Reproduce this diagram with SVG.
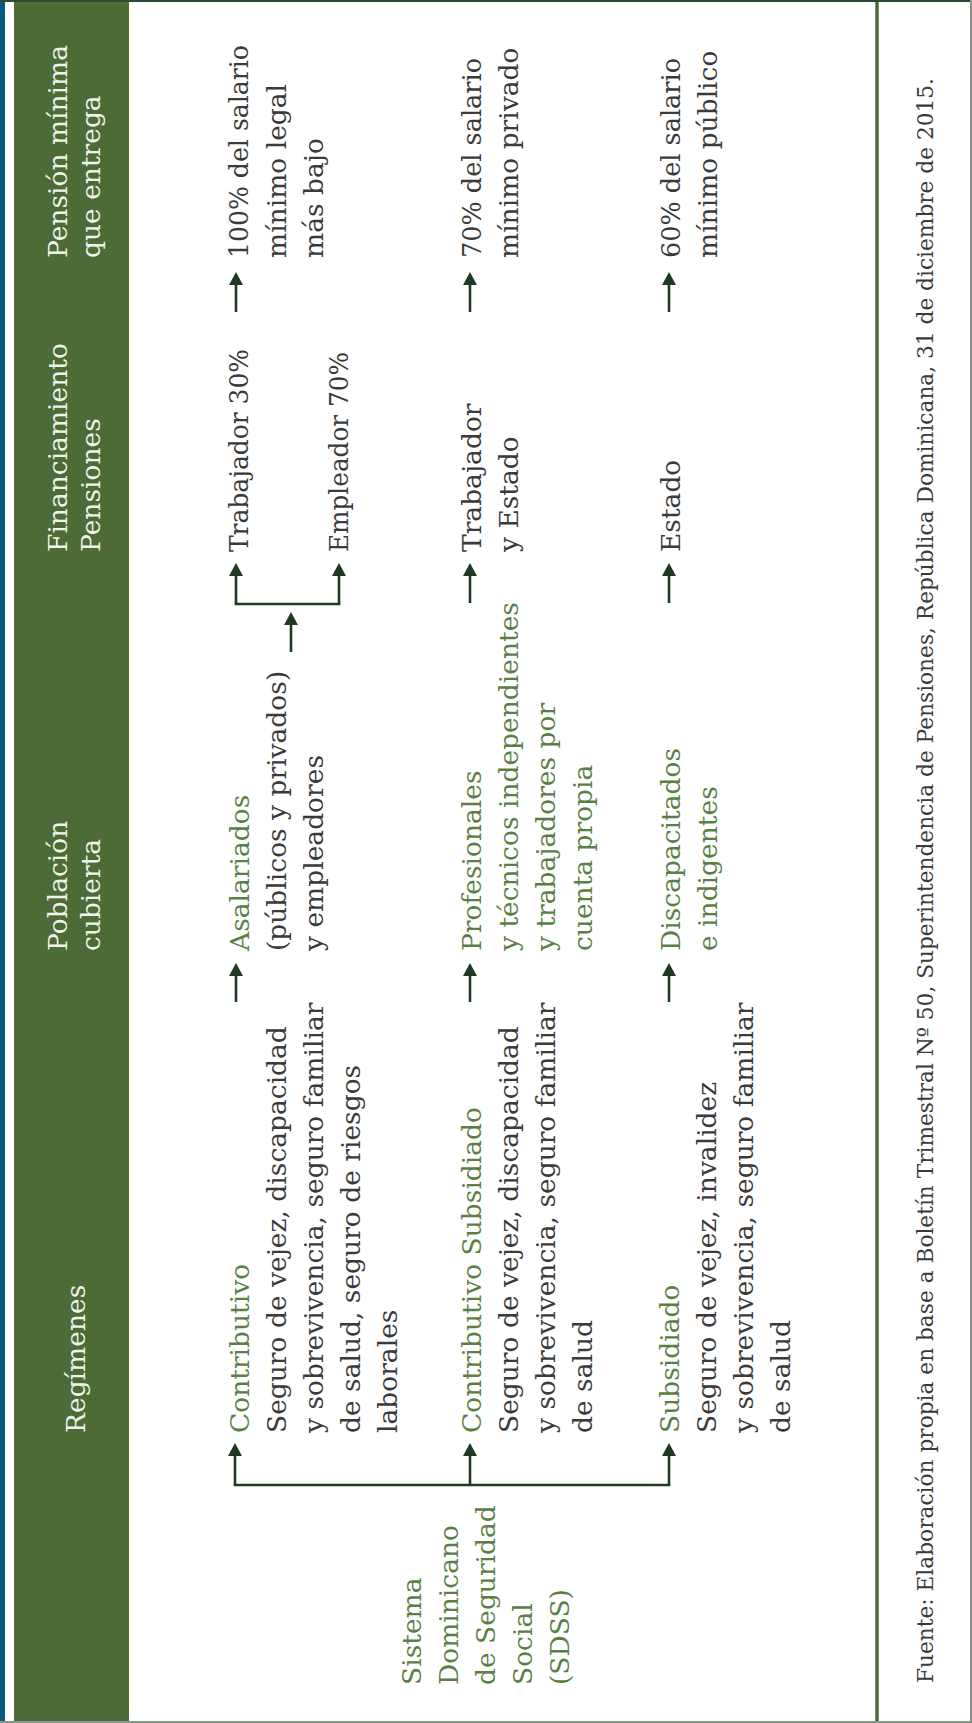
<svg xmlns="http://www.w3.org/2000/svg" width="972" height="1723" viewBox="0 0 972 1723">
<style>
.t{font-family:"DejaVu Serif","Liberation Serif",serif;font-size:26.5px;fill:#3a3a3a}
.g{fill:#5a7f44}
.h{fill:#f2f2ea}
.f{font-size:22px}
.c{stroke:#1f3a22;stroke-width:2.6;fill:none}
</style>
<defs>
<marker id="ah" markerUnits="userSpaceOnUse" viewBox="0 0 13 14" markerWidth="13" markerHeight="14" refX="3" refY="7" orient="auto">
<path d="M0,0 L13,7 L0,14 z" fill="#1f3a22"/>
</marker>
</defs>
<g id="frame">
<rect x="0" y="0" width="972" height="1723" fill="#ffffff"/>
<rect x="0" y="0" width="5" height="1723" fill="#0b5a7d"/>
<rect x="14" y="0" width="115" height="1723" fill="#4d6b36"/>
<line x1="877" y1="0" x2="877" y2="1723" stroke="#4d6b36" stroke-width="3.5"/>
<line x1="0" y1="1" x2="972" y2="1" stroke="#2f4a30" stroke-width="2"/>
<line x1="0" y1="1722" x2="972" y2="1722" stroke="#889888" stroke-width="2"/>
<line x1="971" y1="0" x2="971" y2="1723" stroke="#8a8f8a" stroke-width="2"/>
</g>
<g transform="translate(0,1723) rotate(-90)">
<g id="headers">
<text class="t h" x="290" y="85">Regímenes</text>
<text class="t h" x="772" y="67">Población<tspan x="772" dy="33">cubierta</tspan></text>
<text class="t h" x="1171" y="67">Financiamiento<tspan x="1171" dy="33">Pensiones</tspan></text>
<text class="t h" x="1465" y="67">Pensión mínima<tspan x="1465" dy="33">que entrega</tspan></text>
</g>
<g id="connectors">
<path class="c" d="M238,235 V669" stroke-linecap="square"/>
<line class="c" x1="238" y1="235" x2="270" y2="235" marker-end="url(#ah)"/>
<line class="c" x1="238" y1="470" x2="270" y2="470" marker-end="url(#ah)"/>
<line class="c" x1="238" y1="669" x2="270" y2="669" marker-end="url(#ah)"/>
<line class="c" x1="721" y1="236" x2="750" y2="236" marker-end="url(#ah)"/>
<line class="c" x1="721" y1="470" x2="750" y2="470" marker-end="url(#ah)"/>
<line class="c" x1="721" y1="669" x2="750" y2="669" marker-end="url(#ah)"/>
<line class="c" x1="1071" y1="291" x2="1101" y2="291" marker-end="url(#ah)"/>
<path class="c" d="M1119,236 V339" stroke-linecap="square"/>
<line class="c" x1="1119" y1="236" x2="1150" y2="236" marker-end="url(#ah)"/>
<line class="c" x1="1119" y1="339" x2="1150" y2="339" marker-end="url(#ah)"/>
<line class="c" x1="1120" y1="470" x2="1150" y2="470" marker-end="url(#ah)"/>
<line class="c" x1="1120" y1="669" x2="1150" y2="669" marker-end="url(#ah)"/>
<line class="c" x1="1411" y1="236" x2="1441" y2="236" marker-end="url(#ah)"/>
<line class="c" x1="1411" y1="470" x2="1441" y2="470" marker-end="url(#ah)"/>
<line class="c" x1="1411" y1="669" x2="1441" y2="669" marker-end="url(#ah)"/>
</g>
<g id="sdss">
<text class="t g" x="38" y="421">Sistema<tspan x="38" dy="37">Dominicano</tspan><tspan x="38" dy="37">de Seguridad</tspan><tspan x="38" dy="37">Social</tspan><tspan x="38" dy="37">(SDSS)</tspan></text>
</g>
<g id="contributivo">
<text class="t g" x="290" y="249">Contributivo</text>
<text class="t" x="290" y="286">Seguro de vejez, discapacidad<tspan x="290" dy="37">y sobrevivencia, seguro familiar</tspan><tspan x="290" dy="37">de salud, seguro de riesgos</tspan><tspan x="290" dy="37">laborales</tspan></text>
</g>
<g id="contributivo-subsidiado">
<text class="t g" x="290" y="481">Contributivo Subsidiado</text>
<text class="t" x="290" y="518">Seguro de vejez, discapacidad<tspan x="290" dy="37">y sobrevivencia, seguro familiar</tspan><tspan x="290" dy="37">de salud</tspan></text>
</g>
<g id="subsidiado">
<text class="t g" x="290" y="679">Subsidiado</text>
<text class="t" x="290" y="716">Seguro de vejez, invalidez<tspan x="290" dy="37">y sobrevivencia, seguro familiar</tspan><tspan x="290" dy="37">de salud</tspan></text>
</g>
<g id="asalariados">
<text class="t g" x="772" y="249">Asalariados</text>
<text class="t" x="772" y="286">(públicos y privados)<tspan x="772" dy="37">y empleadores</tspan></text>
</g>
<g id="profesionales">
<text class="t g" x="772" y="481">Profesionales<tspan x="772" dy="37">y técnicos independientes</tspan><tspan x="772" dy="37">y trabajadores por</tspan><tspan x="772" dy="37">cuenta propia</tspan></text>
</g>
<g id="discapacitados">
<text class="t g" x="772" y="680">Discapacitados<tspan x="772" dy="37">e indigentes</tspan></text>
</g>
<g id="financiamiento">
<text class="t" x="1171" y="248" textLength="203" lengthAdjust="spacingAndGlyphs">Trabajador 30%</text>
<text class="t" x="1171" y="348" textLength="200" lengthAdjust="spacingAndGlyphs">Empleador 70%</text>
<text class="t" x="1171" y="481">Trabajador<tspan x="1171" dy="37">y Estado</tspan></text>
<text class="t" x="1171" y="680">Estado</text>
</g>
<g id="pension">
<text class="t" x="1465" y="248" textLength="213" lengthAdjust="spacingAndGlyphs">100% del salario</text>
<text class="t" x="1465" y="286">mínimo legal<tspan x="1465" dy="37">más bajo</tspan></text>
<text class="t" x="1465" y="481" textLength="200" lengthAdjust="spacingAndGlyphs">70% del salario</text>
<text class="t" x="1465" y="518">mínimo privado</text>
<text class="t" x="1465" y="680" textLength="200" lengthAdjust="spacingAndGlyphs">60% del salario</text>
<text class="t" x="1465" y="717">mínimo público</text>
</g>
<g id="footer">
<text class="t f" x="40" y="933" textLength="1605" lengthAdjust="spacingAndGlyphs">Fuente: Elaboración propia en base a Boletín Trimestral Nº 50, Superintendencia de Pensiones, República Dominicana, 31 de diciembre de 2015.</text>
</g>
</g>
</svg>
